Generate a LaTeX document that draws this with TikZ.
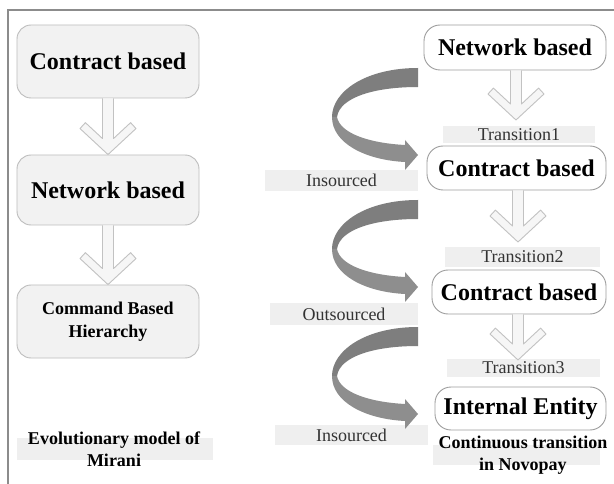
\documentclass[tikz,border=0pt]{standalone}
\usepackage{fontspec}
\setmainfont{Liberation Serif}
\usetikzlibrary{calc}
\definecolor{bandgray}{HTML}{EFEFEF}
\definecolor{boxfill}{HTML}{F2F2F2}
\definecolor{boxline}{HTML}{BDBDBD}
\definecolor{rline}{HTML}{9E9E9E}
\definecolor{arrline}{HTML}{C2C2C2}
\definecolor{arrfill}{HTML}{F6F6F6}
\definecolor{curvedark}{HTML}{7E7E7E}
\definecolor{curvelight}{HTML}{8E8E8E}
\definecolor{framecol}{HTML}{8C8C8C}
\definecolor{transtext}{HTML}{333333}

\newcommand\chevarrow[2]{%
  \draw[blockarrow] ($(#2|-#1)+(-5.5,0)$) -- ($(#2)+(-5.5,-16)$) -- ($(#2)+(-22.6,-31.9)$)
    -- ($(#2)+(-28,-26)$) -- (#2) -- ($(#2)+(28,-26)$) -- ($(#2)+(22.6,-31.9)$)
    -- ($(#2)+(5.5,-16)$) -- ($(#2|-#1)+(5.5,0)$);}

\newcommand\curvedarrow[1]{%
  \begin{scope}[shift={(0,#1)}]
    \fill[curvedark] (418,68) .. controls (365,68) and (332,92) .. (332,117)
      -- (337,117) .. controls (340,97) and (375,87) .. (418,87) -- cycle;
    \fill[curvelight] (332,117) .. controls (332,143) and (365,160) .. (405,162)
      -- (405,170) -- (418,155) -- (405,140) -- (405,145)
      .. controls (368,143) and (340,133) .. (337,117) -- cycle;
  \end{scope}}

\tikzset{
  lbox/.style={draw=boxline, fill=boxfill, line width=0.9pt, rounded corners=14pt,
    minimum width=182, inner sep=0pt, align=center,
    font=\bfseries\fontsize{24}{28}\selectfont},
  rbox/.style={draw=rline, fill=white, line width=0.9pt, rounded corners=16pt,
    inner sep=0pt, font=\bfseries\fontsize{24}{28}\selectfont},
  band/.style={fill=bandgray, inner sep=0pt, text=transtext,
    font=\fontsize{18}{21}\selectfont},
  blockarrow/.style={draw=arrline, fill=arrfill, line width=0.9pt, line join=round},
  caption/.style={inner sep=0pt, align=center, font=\bfseries\fontsize{18}{21.5}\selectfont}
}

\begin{document}
\begin{tikzpicture}[x=1pt, y=-1pt]
\useasboundingbox (0,0) rectangle (614,484);
\fill[white] (0,0) rectangle (614,484);

% frame
\draw[framecol, line width=1.2pt] (8,484) -- (8,10) -- (614,10);

% bands
\node[band, minimum width=152, minimum height=17] (T1) at (519,135) {Transition1};
\node[band, minimum width=155, minimum height=20] (T2) at (522.5,257) {Transition2};
\node[band, minimum width=153, minimum height=18] (T3) at (523.5,368) {Transition3};
\node[band, minimum width=153, minimum height=21] (I1) at (341.5,180.5) {Insourced};
\node[band, minimum width=148, minimum height=22] (O2) at (344,314) {Outsourced};
\node[band, minimum width=153, minimum height=20] (I3) at (351.5,435) {Insourced};
\fill[bandgray] (433,445) rectangle (600,465);
\fill[bandgray] (17,438) rectangle (213,460);

% left column
\node[lbox, minimum height=73] (L1) at (108,61.5) {Contract based};
\node[lbox, minimum height=70] (L2) at (108,190) {Network based};
\node[lbox, minimum height=73, font=\bfseries\fontsize{18}{23}\selectfont] (L3) at (108,321.5) {Command Based\\Hierarchy};
\node[caption] (LC) at (114,449.5) {Evolutionary model of\\Mirani};

% right column
\node[rbox, minimum width=182, minimum height=45] (R1) at (515,47.5) {Network based};
\node[rbox, minimum width=179, minimum height=44] (R2) at (516.5,168) {Contract based};
\node[rbox, minimum width=174, minimum height=44] (R3) at (519,292) {Contract based};
\node[rbox, minimum width=171, minimum height=43] (R4) at (520.5,408.5) {Internal Entity};
\node[caption] (RC) at (523,455) {Continuous transition\\in Novopay};

% tips of right arrows
\coordinate (t1) at (516,120);
\coordinate (t2) at (518,242);
\coordinate (t3) at (518,360);

% block arrows
\chevarrow{L1.south}{L2.north}
\chevarrow{L2.south}{L3.north}
\chevarrow{R1.south}{t1}
\chevarrow{R2.south}{t2}
\chevarrow{R3.south}{t3}

% curved arrows
\curvedarrow{0}
\curvedarrow{132}
\curvedarrow{259}
\end{tikzpicture}
\end{document}
